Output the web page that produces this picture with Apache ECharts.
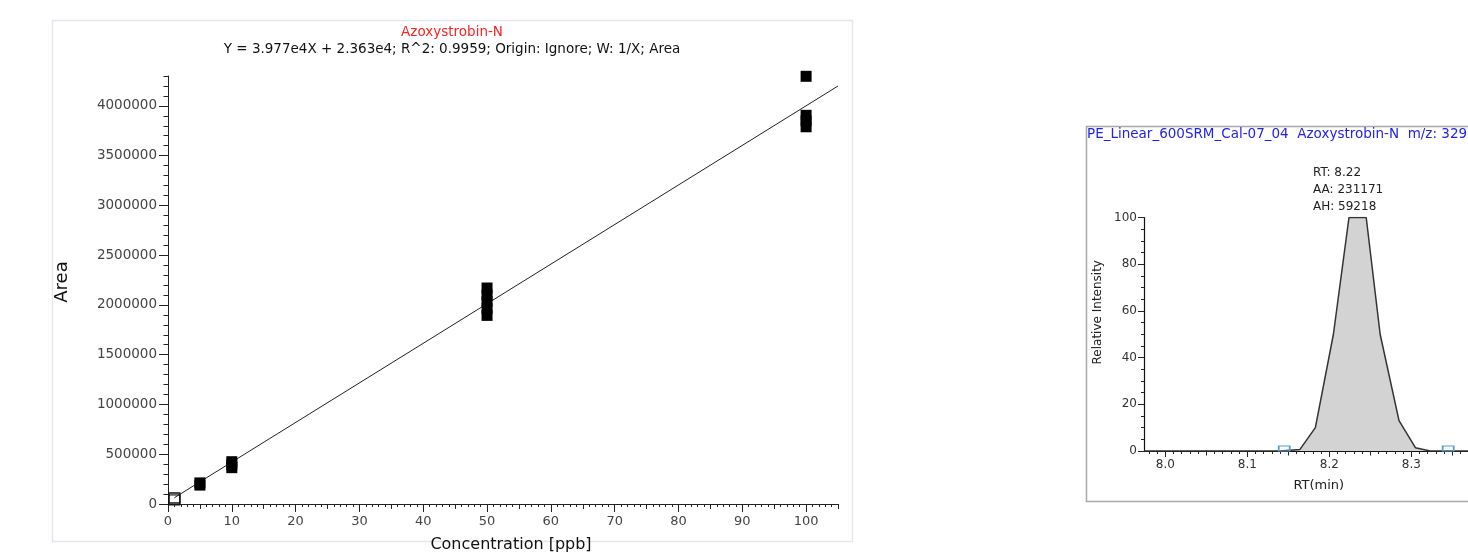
<!DOCTYPE html>
<html><head><meta charset="utf-8">
<script src="https://cdn.jsdelivr.net/npm/echarts@6/dist/echarts.min.js"></script>
<style>html,body{margin:0;padding:0;background:#fff}#c{width:1468px;height:552px}</style>
</head><body><div id="c"></div>
<script>
const FONT = 'DejaVu Sans';

// ---- Calibration curve (left) ----
const calTitle = 'Azoxystrobin-N';
const calEquation = 'Y = 3.977e4X + 2.363e4; R^2: 0.9959; Origin: Ignore; W: 1/X; Area';
const calX = [5, 5, 10, 10, 10, 50, 50, 50, 50, 50, 100, 100, 100, 100];
const calY = [190000, 212000, 365000, 395000, 425000, 1895000, 1965000, 2035000, 2100000, 2170000, 3790000, 3850000, 3905000, 4297000];
const excludedX = [1, 1, 1];
const excludedY = [40000, 52000, 64000];
const fitX = [1, 105];
const fitY = [63400, 4199480];
const concTicks = [0, 10, 20, 30, 40, 50, 60, 70, 80, 90, 100];
const concMidTicks = [5, 15, 25, 35, 45, 55, 65, 75, 85, 95, 105];
const areaTicks = [0, 500000, 1000000, 1500000, 2000000, 2500000, 3000000, 3500000, 4000000];

// ---- Chromatogram (right) ----
const chromTitle = 'PE_Linear_600SRM_Cal-07_04  Azoxystrobin-N  m/z: 329.0';
const rtValues = [7.974, 8.10, 8.14, 8.164, 8.183, 8.205, 8.224, 8.245, 8.262, 8.285, 8.305, 8.323, 8.35, 8.41];
const intensityValues = [0, 0, 0, 0.6, 10, 50, 100, 100, 50, 13, 1.4, 0, 0, 0];
const boundaryRT = [8.145, 8.345];
const boundaryI = [0, 0];
const rtTicks = [8.0, 8.1, 8.2, 8.3, 8.4];
const rtMidTicks = [8.05, 8.15, 8.25, 8.35];
const peakInfo = ['RT: 8.22', 'AA: 231171', 'AH: 59218'];

const rtMinorTicks = [];
for (let i = 798; i <= 841; i++) rtMinorTicks.push(i / 100);

const chart = echarts.init(document.getElementById('c'));
const tickLine = { lineStyle: { color: '#222', width: 1 } };
const noLine = { show: false };

chart.setOption({
  animation: false,
  backgroundColor: '#fff',
  grid: [
    { left: 168, top: 76, width: 670, height: 428, outerBoundsMode: 'none', containLabel: false },
    { left: 1144, top: 217.5, width: 357.5, height: 233.5, outerBoundsMode: 'none', containLabel: false }
  ],
  xAxis: [
    { gridIndex: 0, type: 'value', min: 0, max: 105, position: 'bottom',
      name: 'Concentration [ppb]', nameLocation: 'middle', nameGap: 33,
      nameTextStyle: { fontFamily: FONT, fontSize: 16, color: '#111', padding: [0, 0, 0, 16] },
      axisLine: { show: true, onZero: false, lineStyle: { color: '#222', width: 1 } },
      axisTick: { show: true, customValues: concTicks, length: 8, ...tickLine },
      axisLabel: { customValues: concTicks, margin: 11, fontFamily: FONT, fontSize: 13, color: '#444' },
      splitLine: { show: false } },
    { gridIndex: 0, type: 'value', min: 0, max: 105, interval: 1, position: 'bottom',
      axisLine: noLine, axisLabel: { show: false }, splitLine: { show: false },
      axisTick: { show: true, length: 3, ...tickLine } },
    { gridIndex: 0, type: 'value', min: 0, max: 105, position: 'bottom',
      axisLine: noLine, axisLabel: { show: false }, splitLine: { show: false },
      axisTick: { show: true, customValues: concMidTicks, length: 5, ...tickLine } },
    { gridIndex: 1, type: 'value', min: 7.974, max: 8.41, position: 'bottom',
      name: 'RT(min)', nameLocation: 'middle', nameGap: 28,
      nameTextStyle: { fontFamily: FONT, fontSize: 13, color: '#222', padding: [0, 8, 0, 0] },
      axisLine: { show: true, onZero: false, lineStyle: { color: '#111', width: 1.2 } },
      axisTick: { show: true, customValues: rtTicks, length: 6, ...tickLine },
      axisLabel: { customValues: rtTicks, margin: 8, fontFamily: FONT, fontSize: 12, color: '#333',
                   formatter: v => Number(v).toFixed(1) },
      splitLine: { show: false } },
    { gridIndex: 1, type: 'value', min: 7.974, max: 8.41, position: 'bottom',
      axisLine: noLine, axisLabel: { show: false }, splitLine: { show: false },
      axisTick: { show: true, customValues: rtMinorTicks, length: 3, ...tickLine } },
    { gridIndex: 1, type: 'value', min: 7.974, max: 8.41, position: 'bottom',
      axisLine: noLine, axisLabel: { show: false }, splitLine: { show: false },
      axisTick: { show: true, customValues: rtMidTicks, length: 4.5, ...tickLine } }
  ],
  yAxis: [
    { gridIndex: 0, type: 'value', min: 0, max: 4300000, position: 'left',
      name: 'Area', nameLocation: 'middle', nameGap: 97,
      nameTextStyle: { fontFamily: FONT, fontSize: 18, color: '#111', padding: [0, 0, 0, 16] },
      axisLine: { show: true, onZero: false, lineStyle: { color: '#222', width: 1 } },
      axisTick: { show: true, customValues: areaTicks, length: 9, ...tickLine },
      axisLabel: { customValues: areaTicks, margin: 11, fontFamily: FONT, fontSize: 13.5, color: '#444',
                   formatter: v => String(v) },
      splitLine: { show: false } },
    { gridIndex: 0, type: 'value', min: 0, max: 4300000, interval: 100000, position: 'left',
      axisLine: noLine, axisLabel: { show: false }, splitLine: { show: false },
      axisTick: { show: true, length: 4.5, ...tickLine } },
    { gridIndex: 1, type: 'value', min: 0, max: 100, interval: 20, position: 'left',
      name: 'Relative Intensity', nameLocation: 'middle', nameGap: 40,
      nameTextStyle: { fontFamily: FONT, fontSize: 12, color: '#222', padding: [0, 0, 0, 44] },
      axisLine: { show: true, onZero: false, lineStyle: { color: '#111', width: 1.2 } },
      axisTick: { show: true, length: 6, ...tickLine },
      minorTick: { show: true, splitNumber: 4, length: 3, lineStyle: { color: '#222' } },
      axisLabel: { margin: 7, fontFamily: FONT, fontSize: 12, color: '#333' },
      splitLine: { show: false } }
  ],
  graphic: [
    { type: 'rect', z: -10, silent: true, shape: { x: 52.5, y: 20.5, width: 800, height: 521 },
      style: { fill: 'none', stroke: '#e3e6ec', lineWidth: 1.5 } },
    { type: 'rect', z: -10, silent: true, shape: { x: 1086.5, y: 126.5, width: 420, height: 375 },
      style: { fill: 'none', stroke: '#a9a9a9', lineWidth: 1.5 } },
    { type: 'text', x: 452, y: 32, style: { text: calTitle, fill: '#ff2222', font: '13.5px "DejaVu Sans"',
      textAlign: 'center', textVerticalAlign: 'middle' } },
    { type: 'text', x: 452, y: 49, style: { text: calEquation, fill: '#111', font: '13.5px "DejaVu Sans"',
      textAlign: 'center', textVerticalAlign: 'middle' } },
    { type: 'text', x: 1087, y: 134, style: { text: chromTitle, fill: '#2222ee', font: '13.5px "DejaVu Sans"',
      textAlign: 'left', textVerticalAlign: 'middle' } },
    { type: 'text', x: 1313, y: 173, style: { text: peakInfo[0], fill: '#222', font: '12px "DejaVu Sans"',
      textAlign: 'left', textVerticalAlign: 'middle' } },
    { type: 'text', x: 1313, y: 190, style: { text: peakInfo[1], fill: '#222', font: '12px "DejaVu Sans"',
      textAlign: 'left', textVerticalAlign: 'middle' } },
    { type: 'text', x: 1313, y: 207, style: { text: peakInfo[2], fill: '#222', font: '12px "DejaVu Sans"',
      textAlign: 'left', textVerticalAlign: 'middle' } }
  ],
  series: [
    { type: 'line', name: 'Fit', xAxisIndex: 0, yAxisIndex: 0, symbol: 'none',
      data: fitX.map((x, i) => [x, fitY[i]]),
      lineStyle: { color: '#222', width: 1 }, z: 2 },
    { type: 'scatter', name: 'Excluded', xAxisIndex: 0, yAxisIndex: 0, symbol: 'rect', symbolSize: [11, 10],
      data: excludedX.map((x, i) => [x, excludedY[i]]),
      itemStyle: { color: 'rgba(255,255,255,0)', borderColor: '#111', borderWidth: 1, opacity: 1 }, z: 3 },
    { type: 'scatter', name: 'Standards', xAxisIndex: 0, yAxisIndex: 0, symbol: 'rect', symbolSize: [11, 11],
      data: calX.map((x, i) => [x, calY[i]]),
      itemStyle: { color: '#000', opacity: 1 }, z: 4 },
    { type: 'line', name: 'Chromatogram', xAxisIndex: 3, yAxisIndex: 2, symbol: 'none',
      data: rtValues.map((x, i) => [x, intensityValues[i]]),
      lineStyle: { color: '#333', width: 1.5 },
      areaStyle: { color: '#d3d3d3', opacity: 1 }, z: 2 },
    { type: 'scatter', name: 'Boundaries', xAxisIndex: 3, yAxisIndex: 2, symbol: 'rect',
      symbolSize: [11, 5], symbolOffset: [0, -2.5],
      data: boundaryRT.map((x, i) => [x, boundaryI[i]]),
      itemStyle: { color: 'rgba(255,255,255,0)', borderColor: '#5b9bd5', borderWidth: 1.2, opacity: 1 }, z: 3 }
  ]
});
</script>
</body></html>
